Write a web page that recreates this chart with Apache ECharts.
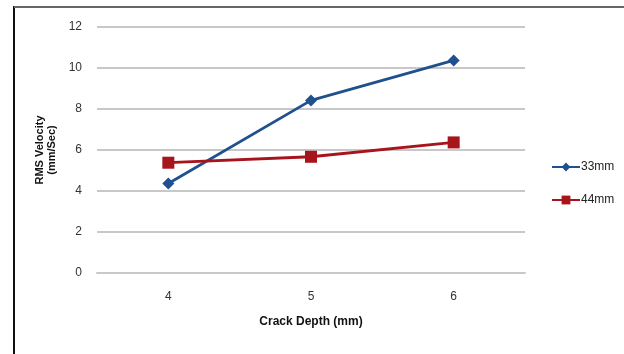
<!DOCTYPE html>
<html><head><meta charset="utf-8">
<script src="https://cdn.jsdelivr.net/npm/echarts@6/dist/echarts.min.js"></script>
<style>html,body{margin:0;padding:0;background:#fff}#c{width:624px;height:354px}</style>
</head><body><div id="c"></div>
<script>
const categories = ['4', '5', '6'];
const s33 = [4.37, 8.42, 10.37];
const s44 = [5.38, 5.67, 6.37];
const seriesNames = ['33mm', '44mm'];
const yTicks = { min: 0, max: 12, interval: 2 };

const font = '"Liberation Sans Narrow", "Liberation Sans", sans-serif';
const chart = echarts.init(document.getElementById('c'), null, { renderer: 'canvas' });
chart.setOption({
  backgroundColor: '#fff',
  animation: false,
  graphic: [
    { type: 'line', shape: { x1: 14, y1: 6, x2: 14, y2: 354 }, style: { stroke: '#111', lineWidth: 2 } },
    { type: 'line', shape: { x1: 14, y1: 7, x2: 624, y2: 7 }, style: { stroke: '#666', lineWidth: 2 } }
  ],
  grid: { left: 97, right: 99, top: 27, bottom: 81 },
  legend: {
    orient: 'vertical', left: 546, top: 156, itemGap: 21,
    itemWidth: 28, itemHeight: 11,
    textStyle: { fontFamily: font, fontSize: 12, color: '#222', padding: [0, 0, 0, -4] },
    data: seriesNames
  },
  xAxis: {
    type: 'category', data: categories, boundaryGap: true,
    name: 'Crack Depth (mm)', nameLocation: 'middle', nameGap: 43,
    nameTextStyle: { fontFamily: font, fontSize: 12, fontWeight: 'bold', color: '#111' },
    axisLine: { show: true, lineStyle: { color: '#c8c8c8', width: 2 } },
    axisTick: { show: false },
    axisLabel: { fontFamily: font, fontSize: 12, color: '#333', margin: 18 }
  },
  yAxis: {
    type: 'value', min: yTicks.min, max: yTicks.max, interval: yTicks.interval,
    name: 'RMS Velocity\n(mm/Sec)', nameLocation: 'middle', nameGap: 36,
    nameTextStyle: { fontFamily: font, fontSize: 11, fontWeight: 'bold', color: '#111', lineHeight: 12 },
    axisLine: { show: false }, axisTick: { show: false },
    axisLabel: { fontFamily: font, fontSize: 12, color: '#333', margin: 15 },
    splitLine: { lineStyle: { color: '#c8c8c8', width: 2 } }
  },
  series: [
    { name: seriesNames[0], type: 'line', data: s33, symbol: 'diamond', symbolSize: 12,
      lineStyle: { color: '#21508f', width: 2.8 }, itemStyle: { color: '#21508f' } },
    { name: seriesNames[1], type: 'line', data: s44, symbol: 'rect', symbolSize: 12,
      lineStyle: { color: '#a8141c', width: 2.8 }, itemStyle: { color: '#a8141c' } }
  ]
});
</script></body></html>
